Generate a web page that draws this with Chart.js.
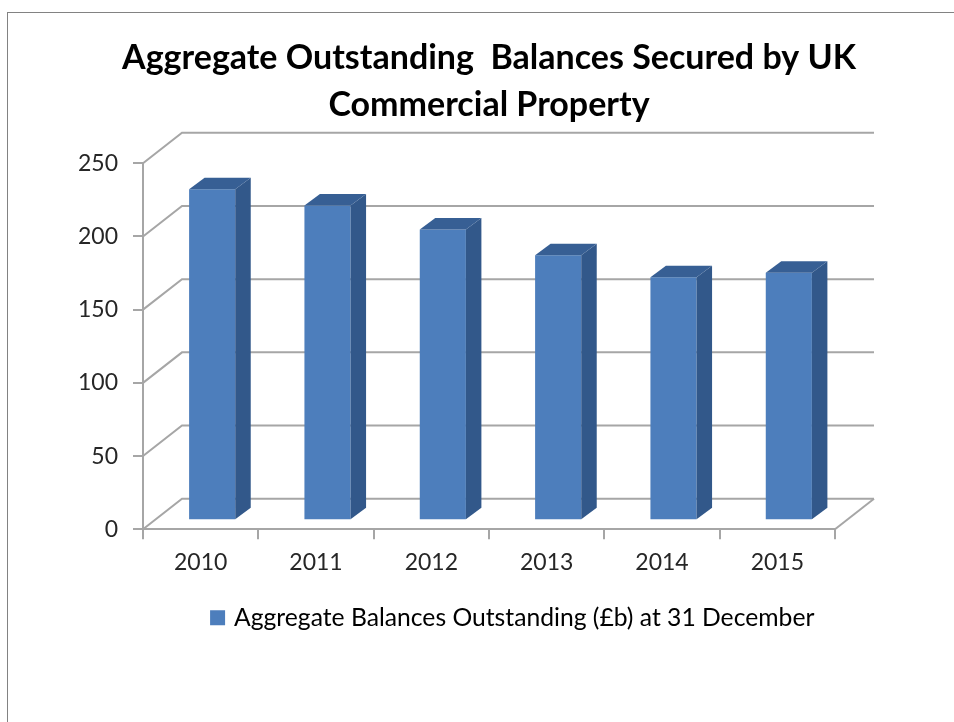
<!DOCTYPE html>
<html>
<head>
<meta charset="utf-8">
<title>UK Commercial Property</title>
<script src="https://cdn.jsdelivr.net/npm/chart.js@4"></script>
<style>
  html, body { margin: 0; padding: 0; background: #fff; }
  #wrap { position: relative; width: 954px; height: 722px; overflow: hidden; }
  #frame { position: absolute; left: 7px; top: 12px; width: 960px; height: 730px; border: 1px solid #828282; pointer-events: none; }
</style>
</head>
<body>
<div id="wrap">
  <canvas id="myChart" width="954" height="722"></canvas>
  <div id="frame"></div>
</div>
<script>
var years = ['2010', '2011', '2012', '2013', '2014', '2015'];
var balances = [226, 215, 198.5, 181, 166, 169];
var seriesName = 'Aggregate Balances Outstanding (£b) at 31 December';
var titleLines = ['Aggregate Outstanding  Balances Secured by UK', 'Commercial Property'];

var FONT = 'Lato, sans-serif';
var GRID = '#a6a6a6';
var BAR_COLOR = '#4d7ebc';

// depth of the back wall and of each bar, in px
var WALL_DX = 39, WALL_DY = 30.5;
var BAR_DX = 15.5, BAR_DY = 11.5;
// bars stand halfway into the floor
var BAR_SHIFT_X = 11.5, BAR_SHIFT_Y = 9;

// back wall, floor and side wall lines
var wallPlugin = {
  id: 'wall',
  beforeDatasetsDraw: function (chart) {
    var ctx = chart.ctx;
    var xs = chart.scales.x;
    var ys = chart.scales.y;
    ctx.save();
    ctx.strokeStyle = GRID;
    ctx.lineWidth = 2;
    ys.ticks.forEach(function (t) {
      var y = ys.getPixelForValue(t.value);
      ctx.beginPath();
      ctx.moveTo(xs.left, y);
      ctx.lineTo(xs.left + WALL_DX, y - WALL_DY);
      ctx.lineTo(xs.right + WALL_DX, y - WALL_DY);
      ctx.stroke();
    });
    var y0 = ys.getPixelForValue(0);
    ctx.beginPath();
    ctx.moveTo(xs.right, y0);
    ctx.lineTo(xs.right + WALL_DX, y0 - WALL_DY);
    ctx.stroke();
    ctx.restore();
  }
};

// moves the bars back onto the floor and adds their side and top faces
var barDepthPlugin = {
  id: 'barDepth',
  beforeDatasetDraw: function (chart) {
    chart.ctx.save();
    chart.ctx.translate(BAR_SHIFT_X, -BAR_SHIFT_Y);
  },
  afterDatasetDraw: function (chart, args) {
    var ctx = chart.ctx;
    args.meta.data.forEach(function (bar) {
      var l = bar.x - bar.width / 2;
      var r = bar.x + bar.width / 2;
      ctx.fillStyle = '#32588a';
      ctx.beginPath();
      ctx.moveTo(r, bar.y);
      ctx.lineTo(r + BAR_DX, bar.y - BAR_DY);
      ctx.lineTo(r + BAR_DX, bar.base - BAR_DY);
      ctx.lineTo(r, bar.base);
      ctx.closePath();
      ctx.fill();
      ctx.fillStyle = '#375f94';
      ctx.beginPath();
      ctx.moveTo(l, bar.y);
      ctx.lineTo(l + BAR_DX, bar.y - BAR_DY);
      ctx.lineTo(r + BAR_DX, bar.y - BAR_DY);
      ctx.lineTo(r, bar.y);
      ctx.closePath();
      ctx.fill();
    });
    ctx.restore();
  }
};

// legend sits a little right of the plot centre, title is wider than the plot
var boxShiftPlugin = {
  id: 'boxShift',
  afterLayout: function (chart) {
    chart.legend.left += 25;
    chart.legend.right += 25;
    chart.titleBlock.left -= 60;
    chart.titleBlock.right += 60;
  }
};

var myChart = new Chart(document.getElementById('myChart').getContext('2d'), {
  type: 'bar',
  data: {
    labels: years,
    datasets: [{
      label: seriesName,
      data: balances,
      backgroundColor: BAR_COLOR,
      categoryPercentage: 1,
      barPercentage: 0.4,
      clip: false
    }]
  },
  plugins: [wallPlugin, barDepthPlugin, boxShiftPlugin],
  options: {
    responsive: false,
    animation: false,
    layout: { padding: { left: 0, right: 119, top: 0, bottom: 82 } },
    plugins: {
      title: {
        display: true,
        fullSize: false,
        text: titleLines,
        color: '#000',
        font: { family: FONT, size: 34, weight: '700', lineHeight: 1.4 },
        padding: { top: 34, bottom: 34 }
      },
      legend: {
        position: 'bottom',
        fullSize: false,
        labels: {
          color: '#262626',
          font: { family: FONT, size: 24.7 },
          boxWidth: 8,
          boxHeight: 8,
          padding: 12,
          // thick outline keeps the swatch text gap tight
          generateLabels: function () {
            return [{
              text: seriesName,
              fillStyle: BAR_COLOR,
              strokeStyle: BAR_COLOR,
              lineWidth: 7,
              datasetIndex: 0
            }];
          }
        }
      },
      tooltip: { enabled: false }
    },
    scales: {
      x: {
        offset: true,
        afterFit: function (scale) { scale.height = 64; },
        grid: { display: true, drawOnChartArea: false, color: GRID, lineWidth: 2, tickLength: 10, offset: true },
        border: { color: GRID, width: 2 },
        ticks: { color: '#262626', font: { family: FONT, size: 23 }, padding: 9, maxRotation: 0 }
      },
      y: {
        min: 0,
        max: 250,
        afterFit: function (scale) { scale.width = 143; },
        grid: { display: true, drawOnChartArea: false, color: GRID, lineWidth: 2, tickLength: 10 },
        border: { color: GRID, width: 2 },
        ticks: { stepSize: 50, color: '#262626', font: { family: FONT, size: 23 }, padding: 15 }
      }
    }
  }
});
</script>
</body>
</html>
